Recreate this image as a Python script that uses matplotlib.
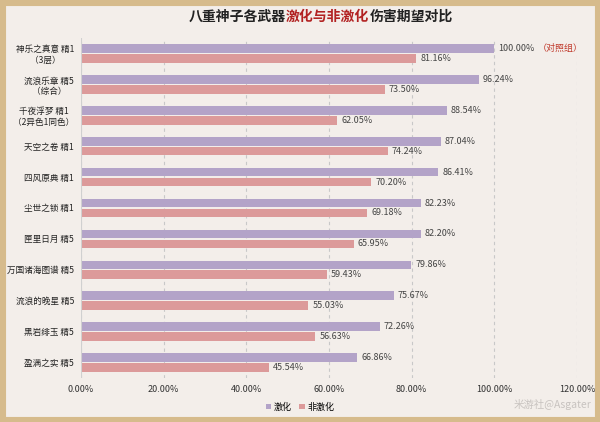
import matplotlib
matplotlib.use("Agg")
import matplotlib.pyplot as plt
from matplotlib.patches import Rectangle
plt.rcParams['font.family'] = ['Noto Sans CJK SC']

categories = ["神乐之真意 精1\n（3层）", "流浪乐章 精5\n（综合）", "千夜浮梦 精1\n（2异色1同色）",
              "天空之卷 精1", "四风原典 精1", "尘世之锁 精1", "匣里日月 精5",
              "万国诸海图谱 精5", "流浪的晚星 精5", "黑岩绯玉 精5", "盈满之实 精5"]
quicken = [100.00, 96.24, 88.54, 87.04, 86.41, 82.23, 82.20, 79.86, 75.67, 72.26, 66.86]
nonquicken = [81.16, 73.50, 62.05, 74.24, 70.20, 69.18, 65.95, 59.43, 55.03, 56.63, 45.54]
xticks = [0, 20, 40, 60, 80, 100, 120]

bg = "#f3eeea"
fig = plt.figure(figsize=(6, 4.22), dpi=100, facecolor=bg)
fig.patches.append(Rectangle((0, 0), 1, 1, transform=fig.transFigure, fill=False,
                             edgecolor="#d6bb8c", linewidth=8))
ax = fig.add_axes([81/600, 1-378/422, (577-81)/600, 340/422], facecolor=bg)
n = len(categories)
ys = list(range(n))
h = 0.28
ax.barh([y - 0.16 for y in ys], quicken, height=h, color="#b3a3c8", label="激化")
ax.barh([y + 0.16 for y in ys], nonquicken, height=h, color="#dc9a9a", label="非激化")
for y, q, nq in zip(ys, quicken, nonquicken):
    ax.text(q + 1, y - 0.16, f"{q:.2f}%", va="center", fontsize=6.5, color="#444")
    ax.text(nq + 1, y + 0.16, f"{nq:.2f}%", va="center", fontsize=6.5, color="#444")
ax.text(quicken[0] + 10.5, -0.16, "（对照组）", va="center", fontsize=6.5, color="#c0392b")
ax.set_ylim(n - 0.5, -0.5)
ax.set_xlim(0, 120)
ax.set_xticks(xticks)
ax.set_xticklabels([f"{v:.2f}%" for v in xticks], fontsize=6.5, color="#333")
ax.set_yticks(ys)
ax.set_yticklabels(categories, fontsize=6.2, color="#222", multialignment="center")
ax.tick_params(length=0, pad=5)
ax.grid(axis="x", linestyle=(0, (3, 3)), color="#c8c8c8", linewidth=0.8)
ax.set_axisbelow(True)
for s in ax.spines.values():
    s.set_visible(False)
ax.axvline(0, color="#d0d0d0", linewidth=0.8)

parts = [("八重神子各武器", "#222"), ("激化与非激化", "#b22222"), ("伤害期望对比", "#222")]
fig.canvas.draw()
r = fig.canvas.get_renderer()
xc = 0.5 - 0.185
for s, c in parts:
    tx = fig.text(xc, 1 - 17/422, s, fontsize=10, fontweight="bold", color=c, va="center")
    bb = tx.get_window_extent(renderer=r)
    xc += bb.width / fig.bbox.width

fig.legend(loc="center", bbox_to_anchor=(0.5, 1 - 407/422), ncol=2, frameon=False,
           fontsize=6.5, handlelength=0.6, handleheight=0.6, columnspacing=0.8, handletextpad=0.3)
fig.text(0.985, 1 - 404/422, "米游社@Asgater", ha="right", va="center", fontsize=7.5, color="#c8c3c0")
fig.savefig("out.png", dpi=100, facecolor=bg)
